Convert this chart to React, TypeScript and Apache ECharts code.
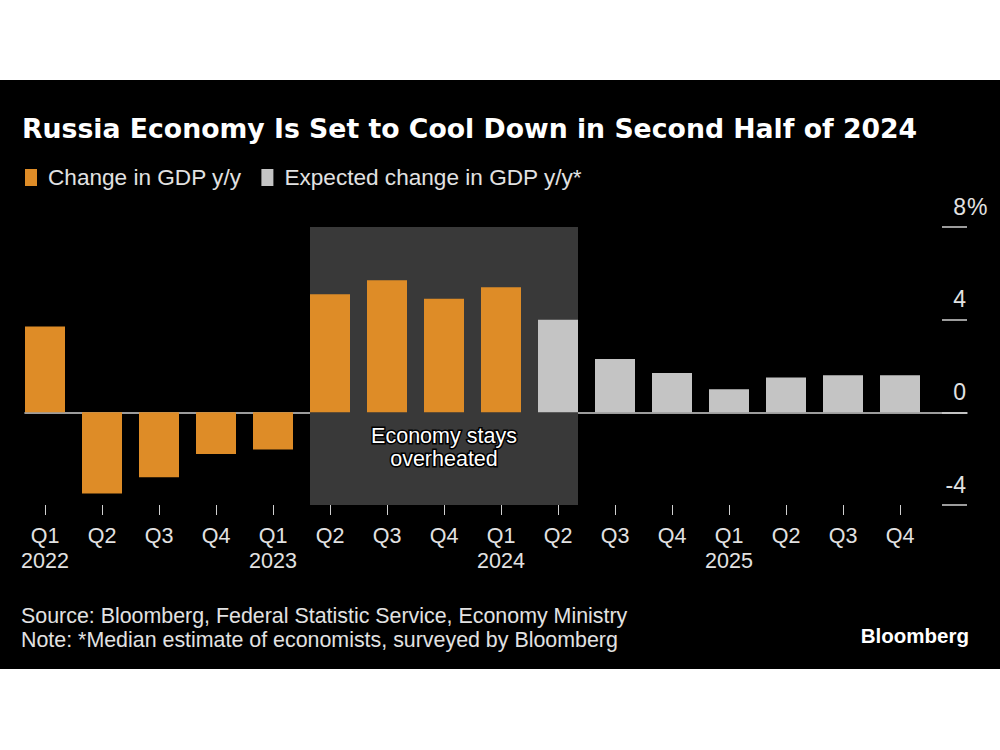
import React, { useEffect, useRef } from "react";
import * as echarts from "echarts";

// ---- Data ----
const quarterLabels = ["Q1", "Q2", "Q3", "Q4", "Q1", "Q2", "Q3", "Q4", "Q1", "Q2", "Q3", "Q4", "Q1", "Q2", "Q3", "Q4"];
const yearLabels = ["2022", "", "", "", "2023", "", "", "", "2024", "", "", "", "2025", "", "", ""];
const actualGdp = [3.7, -3.5, -2.8, -1.8, -1.6, 5.1, 5.7, 4.9, 5.4];
const expectedGdp = [4.0, 2.3, 1.7, 1.0, 1.5, 1.6, 1.6];
const yTickMin = -4;
const yTickMax = 8;
const yTickStep = 4;
const shadeFromIndex = 5; // Q2 2023
const shadeToIndex = 9; // Q2 2024

const ACTUAL_NAME = "Change in GDP y/y";
const EXPECTED_NAME = "Expected change in GDP y/y*";
const TITLE = "Russia Economy Is Set to Cool Down in Second Half of 2024";
const SOURCE = "Source: Bloomberg, Federal Statistic Service, Economy Ministry";
const NOTE = "Note: *Median estimate of economists, surveyed by Bloomberg";
const ANNOTATION = "Economy stays\noverheated";

// ---- Layout / style ----
const BODY_FONT = '"Liberation Sans", Arial, sans-serif';
const ORANGE = "#DE8C27";
const GREY = "#C4C4C4";
const SHADE = "#393939";
const TEXT = "#E2E2E2";
const AXIS = "#D0D0D0";
const BAR_WIDTH = 40;
const STEP_PX = 57; // px per category
const GRID_LEFT = 25;
const GRID_RIGHT = 33;
const halfBar = BAR_WIDTH / 2 / STEP_PX;
const xMin = -halfBar;
const xMax = xMin + (1000 - GRID_LEFT - GRID_RIGHT) / STEP_PX;
const catIdx = quarterLabels.map((_, i) => i);

export default function App() {
  const ref = useRef<HTMLDivElement>(null);

  useEffect(() => {
    const chart = echarts.init(ref.current!, null, { renderer: "svg" });
    const option: any = {
      animation: false,
      backgroundColor: "#ffffff",
      textStyle: { fontFamily: BODY_FONT },
      graphic: [
        {
          type: "rect",
          z: -10,
          silent: true,
          shape: { x: 0, y: 80, width: 1000, height: 589 },
          style: { fill: "#000000" },
        },
        {
          type: "text",
          x: 22,
          y: 128,
          style: {
            text: TITLE,
            fill: "#FFFFFF",
            font: 'bold 26.7px "DejaVu Sans", sans-serif',
            verticalAlign: "middle",
          },
        },
        {
          type: "text",
          x: 21,
          y: 616,
          style: { text: SOURCE, fill: TEXT, font: `21.4px ${BODY_FONT}`, verticalAlign: "middle" },
        },
        {
          type: "text",
          x: 21,
          y: 640,
          style: { text: NOTE, fill: TEXT, font: `21.4px ${BODY_FONT}`, verticalAlign: "middle" },
        },
        {
          type: "text",
          x: 969,
          y: 635,
          style: {
            text: "Bloomberg",
            fill: "#FFFFFF",
            font: `bold 20.5px ${BODY_FONT}`,
            align: "right",
            verticalAlign: "middle",
          },
        },
      ],
      legend: {
        left: 25,
        top: 166,
        padding: 0,
        icon: "rect",
        itemWidth: 12,
        itemHeight: 17,
        itemGap: 20,
        selectedMode: false,
        data: [ACTUAL_NAME, EXPECTED_NAME],
        textStyle: { color: TEXT, fontSize: 22.6, padding: [0, 0, 0, 6] },
      },
      grid: { left: GRID_LEFT, right: GRID_RIGHT, top: 227, bottom: 245 },
      xAxis: [
        {
          type: "value",
          min: xMin,
          max: xMax,
          position: "top",
          axisLine: { show: true, onZero: true, lineStyle: { color: AXIS, width: 1.6 } },
          axisTick: { show: false },
          axisLabel: { show: false },
          splitLine: { show: false },
        },
        {
          type: "value",
          min: xMin,
          max: xMax,
          position: "bottom",
          axisLine: { show: false, onZero: false },
          axisTick: {
            show: true,
            length: 10,
            customValues: catIdx,
            lineStyle: { color: AXIS, width: 1 },
          },
          axisLabel: {
            show: true,
            customValues: catIdx,
            margin: 18,
            fontSize: 21.5,
            lineHeight: 25,
            color: TEXT,
            formatter: (v: number) => {
              const i = Math.round(v);
              return yearLabels[i] ? `${quarterLabels[i]}\n${yearLabels[i]}` : quarterLabels[i];
            },
          },
          splitLine: { show: false },
        },
      ],
      yAxis: [
        {
          type: "value",
          min: yTickMin,
          max: yTickMax,
          interval: yTickStep,
          position: "right",
          axisLine: { show: false, onZero: false },
          axisTick: { show: true, inside: true, length: 25, lineStyle: { color: AXIS, width: 1.5 } },
          axisLabel: {
            inside: true,
            margin: 1,
            verticalAlign: "bottom",
            padding: [0, 0, 9, 0],
            fontSize: 23,
            color: TEXT,
            formatter: (v: number) => String(v),
          },
          splitLine: { show: false },
        },
        {
          type: "value",
          min: yTickMin,
          max: yTickMax,
          interval: yTickStep,
          position: "right",
          axisLine: { show: false, onZero: false },
          axisTick: { show: false },
          axisLabel: {
            inside: false,
            margin: 0,
            align: "left",
            verticalAlign: "bottom",
            padding: [0, 0, 9, 0],
            fontSize: 23,
            color: TEXT,
            formatter: (v: number) => (v === yTickMax ? "%" : ""),
          },
          splitLine: { show: false },
        },
      ],
      series: [
        {
          name: "shade",
          type: "line",
          z: 1,
          data: [],
          silent: true,
          markArea: {
            silent: true,
            itemStyle: { color: SHADE },
            label: {
              show: true,
              position: "insideBottom",
              distance: 35,
              formatter: ANNOTATION,
              color: "#FFFFFF",
              fontSize: 21.5,
              lineHeight: 23,
              align: "center",
              textBorderColor: "#000000",
              textBorderWidth: 3,
            },
            data: [
              [
                { xAxis: shadeFromIndex - halfBar, yAxis: yTickMax },
                { xAxis: shadeToIndex + halfBar, yAxis: yTickMin },
              ],
            ],
          },
        },
        {
          name: ACTUAL_NAME,
          type: "bar",
          z: 3,
          barWidth: BAR_WIDTH,
          barGap: "-100%",
          itemStyle: { color: ORANGE },
          data: actualGdp.map((v, i) => [i, v]),
        },
        {
          name: EXPECTED_NAME,
          type: "bar",
          z: 3,
          barWidth: BAR_WIDTH,
          barGap: "-100%",
          itemStyle: { color: GREY },
          data: expectedGdp.map((v, i) => [i + actualGdp.length, v]),
        },
      ],
    };
    chart.setOption(option);
    return () => chart.dispose();
  }, []);

  return (
    <div
      ref={ref}
      style={{ position: "absolute", left: 0, top: 0, width: 1000, height: 750 }}
    />
  );
}
